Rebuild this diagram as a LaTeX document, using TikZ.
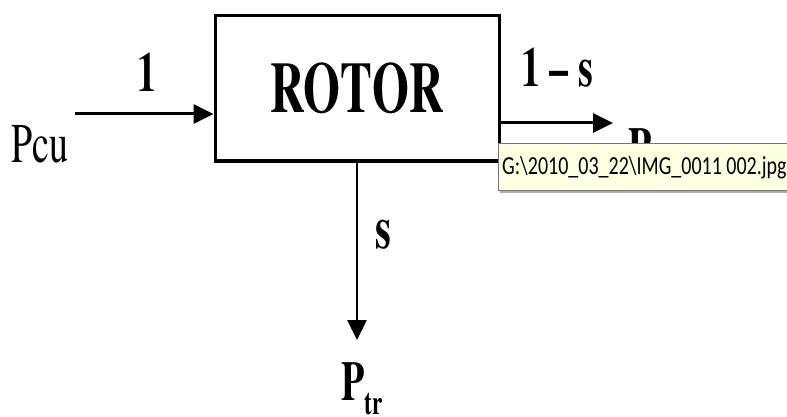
\documentclass[tikz,border=0pt]{standalone}
\usepackage{fontspec}
\usepackage{graphicx}
\newfontfamily\timesf{texgyretermes}[Extension=.otf, UprightFont=*-regular, BoldFont=*-bold]
\newfontfamily\tipfont{Carlito}
\usetikzlibrary{arrows.meta,shadows}
\definecolor{tipyellow}{HTML}{FFFFE1}
\definecolor{tipborder}{HTML}{767676}
\tikzset{
  box/.style={draw, line width=3pt, minimum width=284pt, minimum height=145pt, inner sep=0pt},
  flow/.style={line width=3pt, -{Triangle[length=20pt,width=19pt]}},
  lbl/.style={inner sep=0pt, anchor=base, font=\timesf\fontsize{40}{40}\selectfont},
  blbl/.style={inner sep=0pt, anchor=base, font=\timesf\bfseries\fontsize{40}{40}\selectfont},
  tip/.style={draw=tipborder, fill=tipyellow, line width=0.8pt, inner sep=0pt,
    drop shadow={shadow xshift=2pt, shadow yshift=-3pt, opacity=0.45, fill=black!70}}
}
\newcommand{\tallt}[1]{\scalebox{0.68}[1]{#1}}
\begin{document}
\begin{tikzpicture}[x=1pt,y=-1pt]
\useasboundingbox[fill=white] (0,0) rectangle (787,417);
% rotor block
\node[box] (rotor) at (357,88.5) {};
\node[inner sep=0pt, anchor=base, font=\timesf\bfseries\fontsize{72}{72}\selectfont] (rotorlbl) at (357,113) {\scalebox{0.66}[1]{ROTOR}};
% input
\coordinate (inp) at (75,114);
\draw[flow] (inp) -- (rotor.west |- inp);
\node[inner sep=0pt, anchor=base, font=\timesf\fontsize{56}{56}\selectfont] (pcu) at (40,162) {\tallt{Pcu}};
\node[inner sep=0pt, anchor=base, font=\timesf\bfseries\fontsize{56}{56}\selectfont] (one) at (147,92) {\tallt{1}};
% output right
\coordinate (outend) at (613,123);
\draw[flow] (rotor.east |- outend) -- (outend);
\node[inner sep=0pt, anchor=base, font=\timesf\bfseries\fontsize{56}{56}\selectfont] (ones) at (557,87) {\tallt{1 – s}};
\node[inner sep=0pt, anchor=base, font=\timesf\bfseries\fontsize{56}{56}\selectfont] (pmech) at (640,167) {\tallt{P}};
% output down
\coordinate (downend) at (rotor.south |- 0,340);
\draw[flow, line width=2.5pt] (rotor.south) -- (downend);
\node[inner sep=0pt, anchor=base, font=\timesf\bfseries\fontsize{60}{60}\selectfont] (s) at (383,248) {\tallt{s}};
\node[inner sep=0pt, anchor=base, font=\timesf\bfseries\fontsize{56}{56}\selectfont] (ptr) at (362,400) {\tallt{P\raisebox{-14pt}{\fontsize{34}{34}\selectfont tr}}};
% tooltip
\node[tip, minimum width=300pt, minimum height=47pt, anchor=north west] (tooltip) at (498,143) {};
\node[inner sep=0pt, anchor=base west, font=\tipfont\fontsize{20}{20}\selectfont] (tiptext) at (502,175) {\scalebox{1}[1.3]{G:\textbackslash 2010\_03\_22\textbackslash IMG\_0011 002.jpg}};
\end{tikzpicture}
\end{document}
